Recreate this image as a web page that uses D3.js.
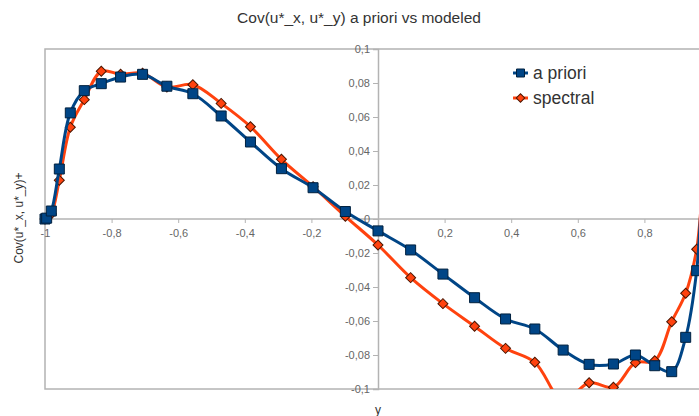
<!DOCTYPE html>
<html><head><meta charset="utf-8">
<script src="https://cdn.jsdelivr.net/npm/d3@7"></script>
<style>body{margin:0;background:#fff;}svg{display:block;font-family:"Liberation Sans",Arial,sans-serif;}</style>
</head><body>
<svg id="chart" width="699" height="416"></svg>
<script>
// y positions (Chebyshev grid)
const yPos = [-1, -0.995, -0.981, -0.957, -0.924, -0.882, -0.831, -0.773, -0.707, -0.634, -0.556, -0.471, -0.383, -0.290, -0.195, -0.098, 0,
  0.098, 0.195, 0.290, 0.383, 0.471, 0.556, 0.634, 0.707, 0.773, 0.831, 0.882, 0.924, 0.957, 0.981, 0.995, 1];
const aPriori = [0, 0.0005, 0.0047, 0.0294, 0.0624, 0.0755, 0.0796, 0.0835, 0.0851, 0.0781, 0.0737, 0.0606, 0.0453, 0.0296, 0.0184, 0.0044, -0.0070,
  -0.0182, -0.0324, -0.0463, -0.0588, -0.0647, -0.0771, -0.0855, -0.0853, -0.0800, -0.0863, -0.0898, -0.0696, -0.0304, 0.035, 0.005, 0];
const spectral = [0, 0.0005, 0.003, 0.0228, 0.0540, 0.0702, 0.0869, 0.0851, 0.0857, 0.0776, 0.0790, 0.0680, 0.0543, 0.0351, 0.0190, 0.0016, -0.0153,
  -0.0345, -0.0498, -0.0631, -0.0761, -0.0843, -0.1070, -0.0963, -0.0990, -0.0845, -0.0834, -0.0604, -0.0437, -0.0178, 0.025, 0.004, 0];
const xTicks = [-1, -0.8, -0.6, -0.4, -0.2, 0.2, 0.4, 0.6, 0.8];
const yTicks = [-0.1, -0.08, -0.06, -0.04, -0.02, 0, 0.02, 0.04, 0.06, 0.08, 0.1];
const seriesNames = ["a priori", "spectral"];
const titleText = "Cov(u*_x, u*_y) a priori vs modeled";
const yLabel = "Cov(u*_x, u*_y)+";
const xLabel = "y";

const svg = d3.select("#chart");
const x = d3.scaleLinear().domain([-1, 1]).range([45, 711]);
const y = d3.scaleLinear().domain([-0.1, 0.1]).range([389, 49]);
const fmt = d => d3.format("")(+d.toFixed(2)).replace(".", ",").replace("−", "-");
const axisCol = "#b3b3b3", textCol = "#666";

svg.append("rect").attr("width", 699).attr("height", 416).attr("fill", "#fff");

// frame
svg.append("rect").attr("x", x(-1)).attr("y", y(0.1)).attr("width", x(1) - x(-1)).attr("height", y(-0.1) - y(0.1))
  .attr("fill", "none").attr("stroke", axisCol).attr("stroke-width", 1.5);

// x axis at y=0
const xAxis = svg.append("g").attr("transform", `translate(0,${y(0)})`)
  .call(d3.axisBottom(x).tickValues(xTicks).tickSize(4).tickPadding(6).tickFormat(fmt));
// y axis at x=0
const yAxis = svg.append("g").attr("transform", `translate(${x(0)},0)`)
  .call(d3.axisLeft(y).tickValues(yTicks).tickSize(5).tickPadding(3).tickFormat(fmt));
[xAxis, yAxis].forEach(g => {
  g.select(".domain").attr("stroke", axisCol).attr("stroke-width", 1.5);
  g.selectAll(".tick line").attr("stroke", axisCol);
  g.selectAll(".tick text").attr("fill", textCol).attr("font-size", 11).attr("font-family", "Liberation Sans, Arial, sans-serif");
});
xAxis.select(".domain").attr("d", `M${x(-1)},0H${x(1)}`);

// clip
svg.append("clipPath").attr("id", "clip").append("rect")
  .attr("x", x(-1) - 8).attr("y", y(0.1)).attr("width", x(1) - x(-1) + 16).attr("height", y(-0.1) - y(0.1));

const plot = svg.append("g").attr("clip-path", "url(#clip)");
const line = d3.line().x(d => x(d[0])).y(d => y(d[1])).curve(d3.curveCatmullRom.alpha(0.5));

const series = [
  {name: seriesNames[1], vals: spectral, color: "#ff420e", stroke: "#4a1500", sym: "diamond"},
  {name: seriesNames[0], vals: aPriori, color: "#004586", stroke: "#00213f", sym: "square"}
];
const sq = d3.symbol(d3.symbolSquare, 100)();
const dm = d3.symbol(d3.symbolSquare, 50)();
series.forEach(s => {
  const pts = yPos.map((p, i) => [p, s.vals[i]]);
  plot.append("path").attr("d", line(pts)).attr("fill", "none").attr("stroke", s.color).attr("stroke-width", 3);
  plot.selectAll(null).data(pts).enter().append("path")
    .attr("d", s.sym === "square" ? sq : dm)
    .attr("transform", d => `translate(${x(d[0])},${y(d[1])})` + (s.sym === "diamond" ? " rotate(45)" : ""))
    .attr("fill", s.color).attr("stroke", s.stroke).attr("stroke-width", 1);
});

// legend
const legend = [
  {name: seriesNames[0], color: "#004586", stroke: "#00213f", sym: "square"},
  {name: seriesNames[1], color: "#ff420e", stroke: "#4a1500", sym: "diamond"}
];
legend.forEach((l, i) => {
  const cy = 73 + i * 25;
  svg.append("line").attr("x1", 513).attr("x2", 528).attr("y1", cy).attr("y2", cy).attr("stroke", l.color).attr("stroke-width", 3);
  svg.append("path").attr("d", l.sym === "square" ? d3.symbol(d3.symbolSquare, 64)() : d3.symbol(d3.symbolSquare, 36)())
    .attr("transform", `translate(520.5,${cy})` + (l.sym === "diamond" ? " rotate(45)" : ""))
    .attr("fill", l.color).attr("stroke", l.stroke).attr("stroke-width", 1);
  svg.append("text").attr("x", 533).attr("y", cy + 6).attr("font-size", 17.5).attr("fill", "#333").text(l.name);
});

// titles
svg.append("text").attr("x", 359).attr("y", 23).attr("text-anchor", "middle").attr("font-size", 15.5).attr("fill", "#333").text(titleText);
svg.append("text").attr("transform", "translate(23,218) rotate(-90)").attr("text-anchor", "middle").attr("font-size", 12).attr("fill", "#333").text(yLabel);
svg.append("text").attr("x", 378).attr("y", 414).attr("text-anchor", "middle").attr("font-size", 12).attr("fill", "#333").text(xLabel);
</script>
</body></html>
